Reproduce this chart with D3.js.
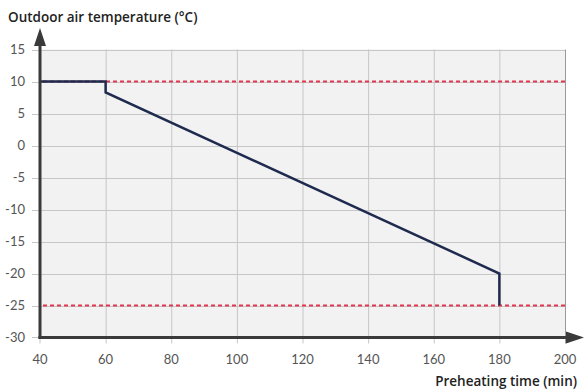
<!DOCTYPE html>
<html>
<head>
<meta charset="utf-8">
<script src="https://cdn.jsdelivr.net/npm/d3@7"></script>
<style>
  body { margin: 0; background: #fff; }
  text { font-family: Lato, "Open Sans", sans-serif; }
  text.title { font-family: "Open Sans", Lato, sans-serif; font-weight: 600; }
</style>
</head>
<body>
<script>
// data
var timeTicks = [40, 60, 80, 100, 120, 140, 160, 180, 200]
var tempTicks = [-30, -25, -20, -15, -10, -5, 0, 5, 10, 15]
var curveTime = [40, 60, 60, 180, 180]
var curveTemp = [10, 10, 8.3, -20, -25]
var limitTemps = [10, -25]

var W = 584, H = 389
var m = { left: 40, right: 565, top: 49.5, bottom: 337.5 }

var svg = d3.select('body').append('svg')
    .attr('width', W)
    .attr('height', H)

var x = d3.scaleLinear().domain([40, 200]).range([m.left, m.right])
var y = d3.scaleLinear().domain([-30, 15]).range([m.bottom, m.top])

// plot background
svg.append('rect')
  .attr('x', x(40)).attr('y', y(15))
  .attr('width', x(200) - x(40)).attr('height', y(-30) - y(15))
  .attr('fill', '#f2f2f2')

// grid
svg.append('g').selectAll('line.v')
  .data(timeTicks.slice(1))
  .enter().append('line')
    .attr('x1', d => x(d) + 0.5).attr('x2', d => x(d) + 0.5)
    .attr('y1', y(15)).attr('y2', y(-30) + 6)
    .attr('stroke', d => d === 200 ? '#9a9a9a' : '#c6c6c6')
    .attr('stroke-width', 1)

svg.append('g').selectAll('line.h')
  .data(tempTicks.slice(1))
  .enter().append('line')
    .attr('x1', x(40) - 8).attr('x2', x(200))
    .attr('y1', d => Math.round(y(d)) + 0.5).attr('y2', d => Math.round(y(d)) + 0.5)
    .attr('stroke', '#c6c6c6')
    .attr('stroke-width', 1)

// small tick at -30 and 40
svg.append('line')
  .attr('x1', x(40) - 8).attr('x2', x(40))
  .attr('y1', y(-30)).attr('y2', y(-30))
  .attr('stroke', '#c6c6c6')
svg.append('line')
  .attr('x1', x(40)).attr('x2', x(40))
  .attr('y1', y(-30)).attr('y2', y(-30) + 6)
  .attr('stroke', '#c6c6c6')

// dashed limits
svg.append('g').selectAll('line.lim')
  .data(limitTemps)
  .enter().append('line')
    .attr('x1', x(40) + 3).attr('x2', x(200))
    .attr('y1', d => y(d)).attr('y2', d => y(d))
    .attr('stroke', '#e0364f')
    .attr('stroke-width', 2)
    .attr('stroke-dasharray', '4,3')

// curve
var line = d3.line()
  .x((d, i) => x(curveTime[i]))
  .y((d, i) => y(curveTemp[i]))
svg.append('path')
  .datum(curveTemp)
  .attr('d', line)
  .attr('fill', 'none')
  .attr('stroke', '#1f2a4f')
  .attr('stroke-width', 2.5)

// axes with arrows
svg.append('line')
  .attr('x1', x(40)).attr('x2', x(40))
  .attr('y1', y(-30) + 1.5).attr('y2', 40)
  .attr('stroke', '#3a3a3a').attr('stroke-width', 3)
svg.append('path')
  .attr('d', d3.line()([[x(40) - 6, 46], [x(40), 28], [x(40) + 6, 46]]))
  .attr('fill', '#3a3a3a')

svg.append('line')
  .attr('x1', x(40) - 1.5).attr('x2', 572)
  .attr('y1', y(-30)).attr('y2', y(-30))
  .attr('stroke', '#3a3a3a').attr('stroke-width', 3)
svg.append('path')
  .attr('d', d3.line()([[566, y(-30) - 6], [584, y(-30)], [566, y(-30) + 6]]))
  .attr('fill', '#3a3a3a')

// tick labels
svg.append('g').selectAll('text')
  .data(tempTicks)
  .enter().append('text')
    .attr('x', 25)
    .attr('y', d => y(d))
    .attr('dy', '0.35em')
    .attr('text-anchor', 'end')
    .attr('font-size', 13)
    .attr('fill', '#555')
    .text(d => d)

svg.append('g').selectAll('text')
  .data(timeTicks)
  .enter().append('text')
    .attr('x', d => x(d))
    .attr('y', 364)
    .attr('text-anchor', 'middle')
    .attr('font-size', 13)
    .attr('fill', '#555')
    .text(d => d)

// axis titles
svg.append('text')
  .attr('class', 'title')
  .attr('x', 8).attr('y', 22)
  .attr('font-size', 13.5)
  .attr('fill', '#222')
  .text('Outdoor air temperature (°C)')

svg.append('text')
  .attr('class', 'title')
  .attr('x', 577).attr('y', 386)
  .attr('text-anchor', 'end')
  .attr('font-size', 13.5)
  .attr('fill', '#222')
  .text('Preheating time (min)')
</script>
</body>
</html>
